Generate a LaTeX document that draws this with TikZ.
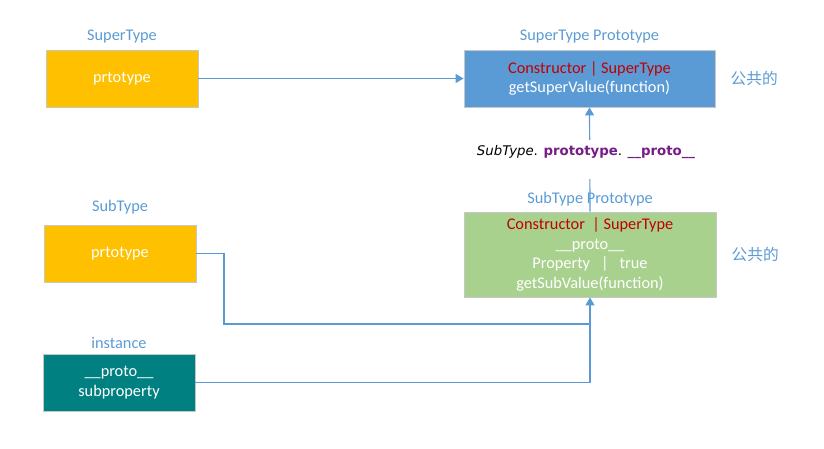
\documentclass[tikz,border=0pt]{standalone}
\usepackage{fontspec}
\setmainfont{Carlito}
\newfontfamily\cjkfont{Noto Sans CJK SC}
\newfontfamily\codefont{DejaVu Sans}
\usetikzlibrary{arrows.meta,positioning}
\definecolor{lineblue}{HTML}{5B9BD5}
\definecolor{boxyellow}{HTML}{FFC000}
\definecolor{boxblue}{HTML}{5B9BD5}
\definecolor{boxgreen}{HTML}{A9D18E}
\definecolor{boxteal}{HTML}{008080}
\definecolor{txtred}{HTML}{C00000}
\definecolor{txtpurple}{HTML}{761C86}
\tikzset{
  box/.style={draw=black!22,line width=0.8pt,minimum width=152pt,minimum height=57pt,inner sep=0pt,
    text=white,align=center,font=\fontsize{16.3}{19.5}\selectfont},
  lbl/.style={text=lineblue,inner sep=1pt,font=\fontsize{16.3}{18}\selectfont},
  cjklbl/.style={text=lineblue,inner sep=1pt,font=\cjkfont\fontsize{15.7}{18}\selectfont},
  conn/.style={draw=lineblue,line width=1.2pt},
}
\begin{document}
\begin{tikzpicture}[x=1pt,y=-1pt,>={Triangle[length=8pt,width=9pt]}]
\useasboundingbox (0,0) rectangle (824,448);
% boxes
\node[box,fill=boxyellow] (sup) at (122,78.5) {prtotype};
\node[box,fill=boxblue,minimum width=251pt] (supproto) at (589.5,78.5)
  {\textcolor{txtred}{Constructor | SuperType}\\getSuperValue(function)};
\node[box,fill=boxyellow] (sub) at (120,253.5) {prtotype};
\node[box,fill=boxgreen,minimum width=252pt,minimum height=85pt] (subproto) at (590,254.5)
  {\textcolor{txtred}{Constructor\ \ | SuperType}\\\_\_proto\_\_\\Property\ \ \ |\ \ \ true\\getSubValue(function)};
\node[box,fill=boxteal] (inst) at (119,382.5) {\_\_proto\_\_\\subproperty};
% titles
\node[lbl,above=5pt of sup] {SuperType};
\node[lbl,above=5pt of supproto] {SuperType Prototype};
\node[lbl,above=9pt of sub] {SubType};
\node[lbl,above=4pt of inst] {instance};
\node[cjklbl,right=14pt of supproto] {公共的};
\node[cjklbl,right=14pt of subproto] {公共的};
% links
\draw[conn,->] (sup.east) -- (supproto.west);
\draw[conn,->] (subproto.north) -- (supproto.south);
\node[fill=white,anchor=base,inner xsep=2pt,inner ysep=0pt,text height=15pt,text depth=24pt,
  font=\codefont\fontsize{13.3}{15}\selectfont] (chain) at (586,155)
  {\textit{SubType}. \textcolor{txtpurple}{\textbf{prototype}}. \textcolor{txtpurple}{\textbf{\_\_proto\_\_}}};
\node[lbl,above=4pt of subproto] {SubType Prototype};
\coordinate (bend) at (224,324);
\coordinate (join) at (590,324);
\draw[conn,->] (sub.east) -| (bend) -- (join) -- (subproto.south);
\draw[conn] (inst.east) -| (join);
\end{tikzpicture}
\end{document}
